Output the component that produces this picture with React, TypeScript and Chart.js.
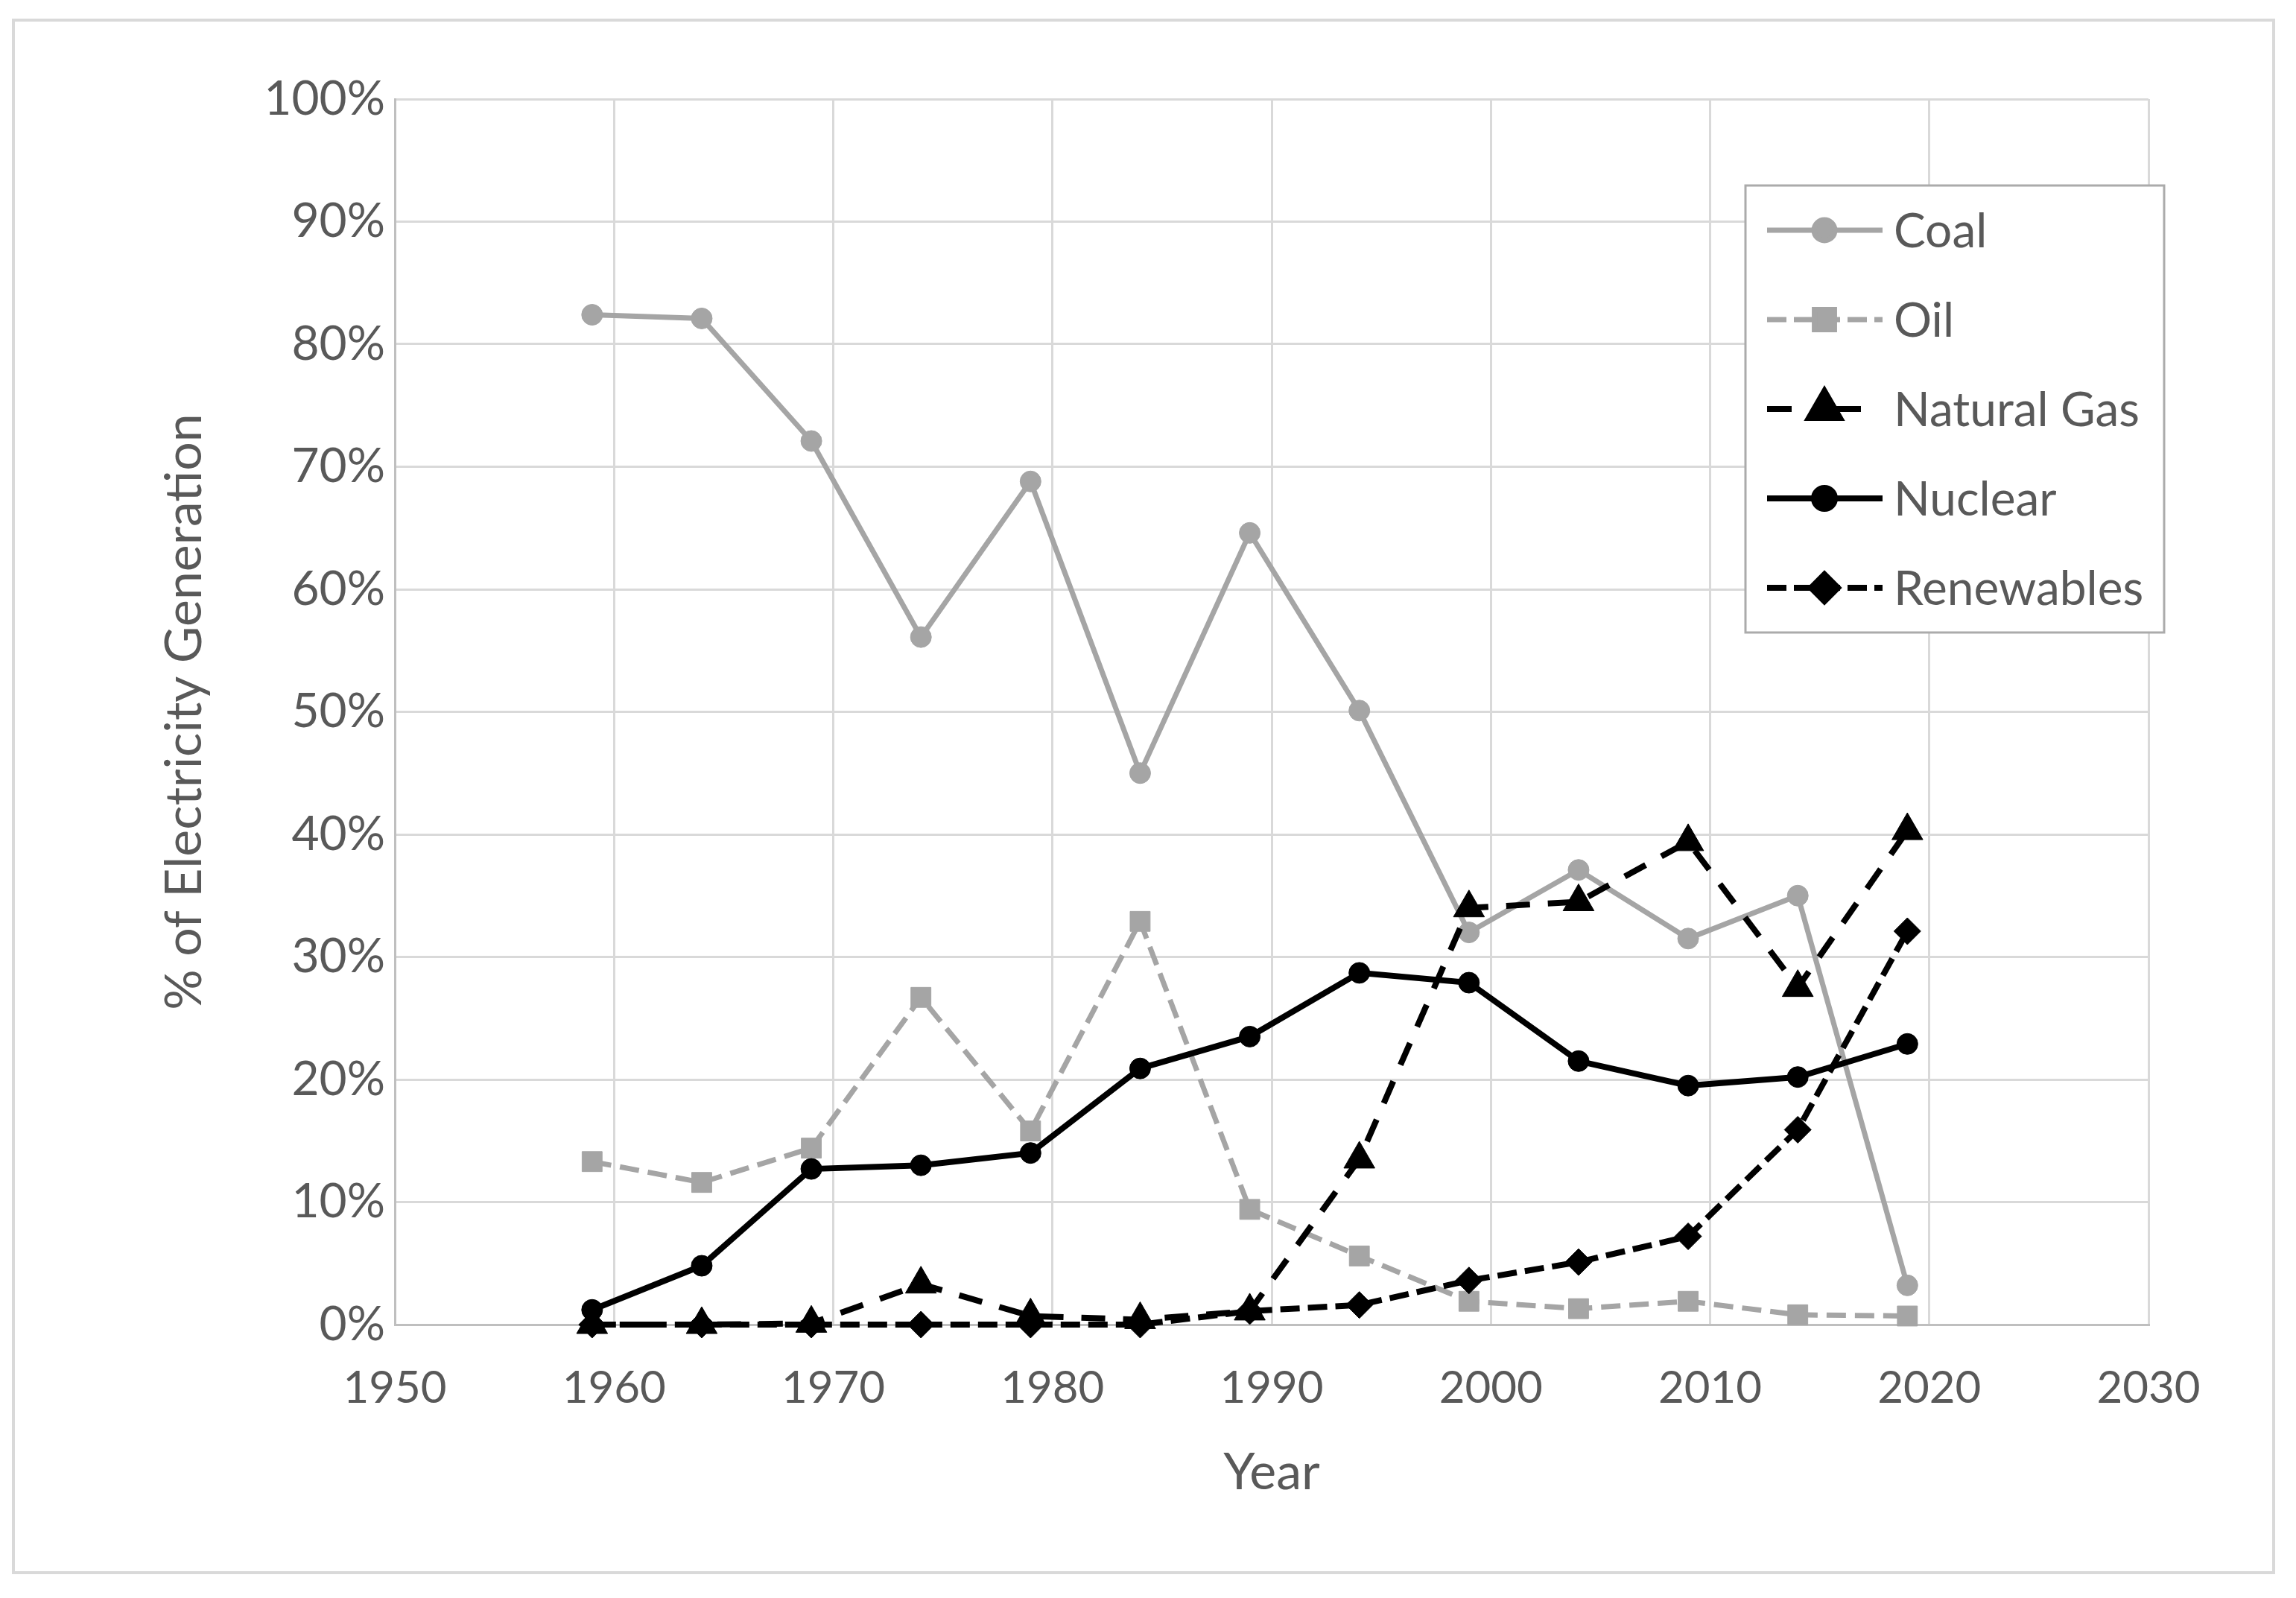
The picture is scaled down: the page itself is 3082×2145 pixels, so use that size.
import React, { useEffect, useRef } from 'react';
import { Chart, registerables } from 'chart.js';
import { drawPoint } from 'chart.js/helpers';

Chart.register(...registerables);

// ---- Data ----
const years = [1959, 1964, 1969, 1974, 1979, 1984, 1989, 1994, 1999, 2004, 2009, 2014, 2019];
const coal = [82.4, 82.1, 72.1, 56.1, 68.8, 45.0, 64.6, 50.1, 32.0, 37.1, 31.5, 35.0, 3.2];
const oil = [13.3, 11.6, 14.4, 26.7, 15.8, 32.9, 9.4, 5.6, 1.9, 1.3, 1.9, 0.8, 0.7];
const naturalGas = [0, 0, 0.1, 3.3, 0.7, 0.4, 1.1, 13.5, 34.0, 34.5, 39.4, 27.5, 40.3];
const nuclear = [1.2, 4.8, 12.7, 13.0, 14.0, 20.9, 23.5, 28.7, 27.9, 21.5, 19.5, 20.2, 22.9];
const renewables = [0, 0, 0, 0, 0, 0, 1.1, 1.6, 3.6, 5.1, 7.2, 15.9, 32.1];

const seriesNames = ['Coal', 'Oil', 'Natural Gas', 'Nuclear', 'Renewables'];
const xMin = 1950;
const xMax = 2030;
const xStep = 10;
const yMin = 0;
const yMax = 100;
const yStep = 10;
const xTitle = 'Year';
const yTitle = '% of Electricity Generation';

const FONT = 'Lato';
const TEXT = '#595959';
const GRAY = '#A5A5A5';
const BLACK = '#000000';

const W = 3082;
const H = 2145;
const PLOT = { left: 530, top: 133, right: 2884, bottom: 1778 };

const toPoints = (vals: number[]) => years.map((x, i) => ({ x, y: vals[i] }));

const frame = {
  id: 'frame',
  beforeDraw(chart: any) {
    const { ctx } = chart;
    ctx.save();
    ctx.fillStyle = '#ffffff';
    ctx.fillRect(0, 0, chart.width, chart.height);
    ctx.strokeStyle = '#D9D9D9';
    ctx.lineWidth = 4;
    ctx.strokeRect(18, 27, 3034, 2084);
    ctx.restore();
  },
};

const legendBox = {
  id: 'legendBox',
  afterDraw(chart: any) {
    const { ctx } = chart;
    const bx = 2343, by = 249, bw = 562, bh = 600;
    ctx.save();
    ctx.fillStyle = '#ffffff';
    ctx.fillRect(bx, by, bw, bh);
    ctx.strokeStyle = '#ABABAB';
    ctx.lineWidth = 3;
    ctx.strokeRect(bx, by, bw, bh);
    chart.data.datasets.forEach((ds: any, i: number) => {
      const y = 309 + i * 120;
      const x1 = 2372, x2 = 2527, xm = 2449;
      ctx.save();
      ctx.strokeStyle = ds.borderColor;
      ctx.lineWidth = ds.borderWidth;
      ctx.setLineDash(ds.legendDash || ds.borderDash || []);
      ctx.lineDashOffset = 0;
      ctx.beginPath();
      ctx.moveTo(x1, y);
      ctx.lineTo(x2, y);
      ctx.stroke();
      ctx.setLineDash([]);
      ctx.fillStyle = ds.pointBackgroundColor;
      ctx.strokeStyle = ds.pointBorderColor;
      drawPoint(ctx, { pointStyle: ds.pointStyle, radius: ds.pointRadius, borderWidth: 1, rotation: 0 } as any, xm, y);
      ctx.restore();
      ctx.fillStyle = TEXT;
      ctx.font = `64px ${FONT}`;
      ctx.textBaseline = 'middle';
      ctx.textAlign = 'left';
      ctx.fillText(ds.label, 2542, y + 2);
    });
    ctx.restore();
  },
};

export default function App() {
  const ref = useRef<HTMLCanvasElement | null>(null);

  useEffect(() => {
    document.body.style.margin = '0';
    const canvas = ref.current!;
    const mk = (label: string, vals: number[], color: string, width: number, dash: number[], style: string, radius: number, order: number, legendDash?: number[]) => ({
      label,
      data: toPoints(vals),
      borderColor: color,
      backgroundColor: color,
      borderWidth: width,
      borderDash: dash,
      legendDash,
      pointStyle: style,
      pointRadius: radius,
      pointBackgroundColor: color,
      pointBorderColor: color,
      pointBorderWidth: 1,
      tension: 0,
      fill: false,
      clip: false,
      order,
    });
    const chart = new Chart(canvas, {
      type: 'line',
      data: {
        datasets: [
          mk(seriesNames[0], coal, GRAY, 7, [], 'circle', 14, 5),
          mk(seriesNames[1], oil, GRAY, 7, [26, 12], 'rect', 19, 4, [26, 10]),
          mk(seriesNames[2], naturalGas, BLACK, 8, [32, 24], 'triangle', 24, 3, [33, 60]),
          mk(seriesNames[3], nuclear, BLACK, 8, [], 'circle', 14, 2),
          mk(seriesNames[4], renewables, BLACK, 8, [26, 11], 'rectRot', 18, 1, [26, 10]),
        ] as any,
      },
      options: {
        responsive: false,
        animation: false,
        events: [],
        layout: { padding: { left: 0, top: PLOT.top, right: W - PLOT.right, bottom: 0 } },
        plugins: { legend: { display: false }, tooltip: { enabled: false } },
        scales: {
          x: {
            type: 'linear',
            min: xMin,
            max: xMax,
            afterFit: (s: any) => { s.height = H - PLOT.bottom; },
            ticks: {
              stepSize: xStep,
              color: TEXT,
              padding: 56,
              font: { family: FONT, size: 60, lineHeight: 1 },
              callback: (v: any) => String(v),
              maxRotation: 0,
            },
            grid: { color: '#D9D9D9', lineWidth: 3, drawTicks: false },
            border: { display: true, color: '#BFBFBF', width: 3 },
            title: {
              display: true,
              text: xTitle,
              color: TEXT,
              font: { family: FONT, size: 68, lineHeight: 1.2 },
              padding: { top: 0, bottom: 127 },
            },
          },
          y: {
            min: yMin,
            max: yMax,
            afterFit: (s: any) => { s.width = PLOT.left; },
            ticks: {
              stepSize: yStep,
              color: TEXT,
              padding: 13,
              font: { family: FONT, size: 64, lineHeight: 1 },
              callback: (v: any) => `${v}%`,
            },
            grid: { color: '#D9D9D9', lineWidth: 3, drawTicks: false },
            border: { display: true, color: '#BFBFBF', width: 3 },
            title: {
              display: true,
              text: yTitle,
              color: TEXT,
              font: { family: FONT, size: 68, lineHeight: 1.2 },
              padding: { top: 207, bottom: 0 },
            },
          },
        },
      } as any,
      plugins: [frame, legendBox],
    });
    let alive = true;
    (document as any).fonts?.ready?.then(() => { if (alive) chart.update(); });
    return () => { alive = false; chart.destroy(); };
  }, []);

  return <canvas ref={ref} width={W} height={H} style={{ display: 'block', width: W, height: H }} />;
}
